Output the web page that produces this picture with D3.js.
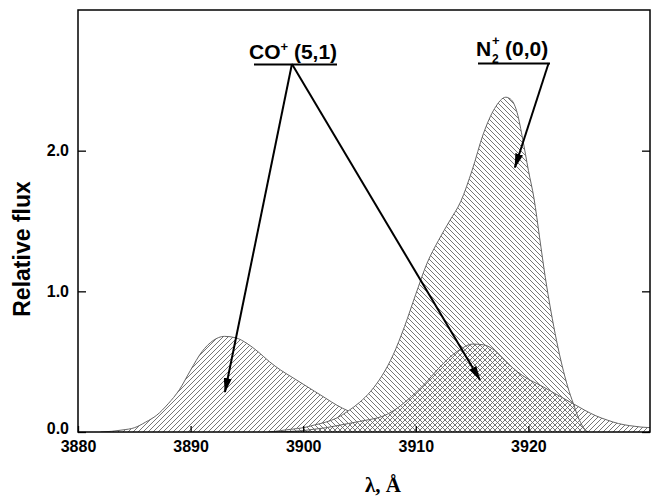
<!DOCTYPE html>
<html>
<head>
<meta charset="utf-8">
<script src="https://cdn.jsdelivr.net/npm/d3@7"></script>
<style>
  body { margin: 0; background: #fff; }
  svg { display: block; }
  .tick-label { font-family: "Liberation Sans", Arial, sans-serif; font-weight: bold; font-size: 16px; }
  .ann { font-family: "Liberation Sans", Arial, sans-serif; font-weight: bold; font-size: 21px; }
</style>
</head>
<body>
<svg id="chart" width="651" height="496"></svg>
<script>
'use strict';

// CO+ (5,1) band, left component
const coLeftWave = [3882, 3883, 3884, 3885, 3886, 3887, 3888, 3889, 3890, 3891, 3892, 3893, 3894, 3895,
  3896, 3897, 3898, 3899, 3900, 3901, 3902, 3903, 3904, 3905, 3906, 3907, 3908, 3909, 3910];
const coLeftFlux = [0, 0.005, 0.015, 0.03, 0.07, 0.12, 0.2, 0.3, 0.44, 0.57, 0.65, 0.68, 0.67, 0.63,
  0.57, 0.5, 0.44, 0.39, 0.34, 0.29, 0.24, 0.19, 0.15, 0.12, 0.09, 0.06, 0.03, 0.01, 0];

// N2+ (0,0) band
const n2Wave = [3897, 3898, 3899, 3900, 3901, 3902, 3903, 3904, 3905, 3906, 3907, 3908, 3909, 3910,
  3911, 3912, 3913, 3914, 3915, 3916, 3917, 3918, 3918.5, 3919, 3919.5, 3920, 3920.5, 3921, 3921.5,
  3922, 3922.5, 3923, 3923.5, 3924, 3924.5, 3925, 3925.3];
const n2Flux = [0, 0.01, 0.02, 0.03, 0.05, 0.07, 0.1, 0.15, 0.21, 0.29, 0.4, 0.55, 0.75, 0.98,
  1.2, 1.36, 1.5, 1.64, 1.86, 2.12, 2.3, 2.38, 2.36, 2.27, 2.08, 1.86, 1.66, 1.38, 1.1,
  0.86, 0.65, 0.47, 0.32, 0.2, 0.09, 0.02, 0];

// CO+ (5,1) band, right component
const coRightWave = [3897, 3899, 3900, 3901, 3902, 3903, 3904, 3905, 3906, 3907, 3908, 3909, 3910, 3911,
  3912, 3913, 3914, 3915, 3916, 3917, 3918, 3919, 3920, 3921, 3922, 3923, 3924, 3925, 3926, 3927,
  3928, 3929, 3930, 3931];
const coRightFlux = [0, 0.005, 0.01, 0.02, 0.03, 0.045, 0.06, 0.075, 0.09, 0.11, 0.15, 0.21, 0.28, 0.36,
  0.45, 0.53, 0.59, 0.625, 0.62, 0.58, 0.5, 0.43, 0.375, 0.335, 0.29, 0.245, 0.2, 0.155, 0.115, 0.085,
  0.06, 0.045, 0.035, 0.03];

const xTicks = [3880, 3890, 3900, 3910, 3920];
const yTicks = [0, 1, 2];

// arrows: [from wavelength, from flux, to wavelength, to flux]
const coArrows = [[3899.0, 2.616, 3893.05, 0.284], [3899.0, 2.616, 3915.7, 0.37]];
const n2Arrows = [[3921.8, 2.623, 3918.8, 1.88]];

const svg = d3.select('#chart');
const pL = 78, pR = 650, pT = 10, pB = 432;

const x = d3.scaleLinear().domain([3880, 3930.8]).range([pL, pR]);
const y = d3.scaleLinear().domain([0, 3]).range([pB, pT]);

const toPts = (w, f) => w.map((d, i) => [d, f[i]]);
const coLeft = toPts(coLeftWave, coLeftFlux);
const n2 = toPts(n2Wave, n2Flux);
const coRight = toPts(coRightWave, coRightFlux);

const area = d3.area().x(d => x(d[0])).y0(y(0)).y1(d => y(d[1])).curve(d3.curveMonotoneX);
const line = d3.line().x(d => x(d[0])).y(d => y(d[1])).curve(d3.curveMonotoneX);

const defs = svg.append('defs');

// hatch patterns
function hatch(id, d) {
  defs.append('pattern')
    .attr('id', id)
    .attr('patternUnits', 'userSpaceOnUse')
    .attr('width', 5).attr('height', 5)
    .append('path')
    .attr('d', d)
    .attr('stroke', '#666')
    .attr('stroke-width', 0.9)
    .attr('fill', 'none');
}
hatch('fwd', 'M-1,1 l2,-2 M0,5 l5,-5 M4,6 l2,-2');
hatch('back', 'M-1,4 l2,2 M0,0 l5,5 M4,-1 l2,2');

defs.append('clipPath').attr('id', 'plotClip')
  .append('rect').attr('x', pL).attr('y', pT).attr('width', pR - pL).attr('height', pB - pT);

// left CO+ component is hidden where the N2+ band lies
defs.append('clipPath').attr('id', 'outsideN2')
  .append('path')
  .attr('clip-rule', 'evenodd')
  .attr('d', `M${pL},${pT}H${pR}V${pB}H${pL}Z` + area(n2));

const plot = svg.append('g').attr('clip-path', 'url(#plotClip)');

const gLeft = plot.append('g').attr('clip-path', 'url(#outsideN2)');
gLeft.append('path').attr('d', area(coLeft)).attr('fill', 'url(#fwd)');
gLeft.append('path').attr('d', line(coLeft)).attr('fill', 'none').attr('stroke', '#666').attr('stroke-width', 1);

plot.append('path').attr('d', area(n2)).attr('fill', 'url(#back)');
plot.append('path').attr('d', area(coRight)).attr('fill', 'url(#fwd)');
plot.append('path').attr('d', line(n2)).attr('fill', 'none').attr('stroke', '#666').attr('stroke-width', 1);
plot.append('path').attr('d', line(coRight)).attr('fill', 'none').attr('stroke', '#666').attr('stroke-width', 1);

// frame with inward ticks
const axes = svg.append('g');
axes.append('g').attr('transform', `translate(0,${pB})`)
  .call(d3.axisBottom(x).tickValues(xTicks).tickSizeInner(-6).tickSizeOuter(0).tickFormat(d3.format('d')).tickPadding(9))
  .call(g => g.selectAll('text').attr('class', 'tick-label').attr('fill', '#000'));
axes.append('g').attr('transform', `translate(${pL},0)`)
  .call(d3.axisLeft(y).tickValues(yTicks).tickSizeInner(-8).tickSizeOuter(0).tickFormat(d3.format('.1f')).tickPadding(9))
  .call(g => g.selectAll('text').attr('class', 'tick-label').attr('fill', '#000'))
  .call(g => g.selectAll('.tick').filter(d => d === 0).select('text').attr('dy', '0.1em'));
axes.append('g').attr('transform', `translate(${pR},0)`)
  .call(d3.axisRight(y).tickValues(yTicks).tickSizeInner(-8).tickSizeOuter(0).tickFormat(''));
axes.selectAll('.domain').remove();
axes.selectAll('.tick line').attr('stroke', '#000').attr('stroke-width', 1.3);
axes.append('rect')
  .attr('x', pL).attr('y', pT).attr('width', pR - pL).attr('height', pB - pT)
  .attr('fill', 'none').attr('stroke', '#000').attr('stroke-width', 1.5);

// axis titles
svg.append('text')
  .attr('transform', `translate(30,${(pT + pB) / 2 + 28}) rotate(-90)`)
  .attr('text-anchor', 'middle')
  .style('font-family', '"Liberation Sans", Arial, sans-serif')
  .style('font-weight', 'bold')
  .style('font-size', '23px')
  .text('Relative flux');

svg.append('text')
  .attr('x', 383).attr('y', 492)
  .attr('text-anchor', 'middle')
  .style('font-family', '"Liberation Serif", "Times New Roman", serif')
  .style('font-weight', 'bold')
  .style('font-size', '21px')
  .text('λ, Å');

// annotations
defs.append('marker')
  .attr('id', 'head')
  .attr('markerUnits', 'userSpaceOnUse')
  .attr('markerWidth', 15).attr('markerHeight', 8)
  .attr('refX', 14).attr('refY', 4)
  .attr('orient', 'auto')
  .append('path').attr('d', 'M0,0 L15,4 L0,8 Z').attr('fill', '#000');

const ann = svg.append('g');

const coText = ann.append('text').attr('class', 'ann').attr('x', 249).attr('y', 59);
coText.append('tspan').text('CO');
coText.append('tspan').attr('dy', -8).style('font-size', '13px').text('+');
coText.append('tspan').attr('dy', 8).text(' (5,1)');
ann.append('line').attr('x1', 254).attr('x2', 337).attr('y1', 64.5).attr('y2', 64.5)
  .attr('stroke', '#000').attr('stroke-width', 2);

ann.append('text').attr('class', 'ann').attr('x', 476).attr('y', 56).text('N');
ann.append('text').attr('class', 'ann').attr('x', 492).attr('y', 63).style('font-size', '12px').text('2');
ann.append('text').attr('class', 'ann').attr('x', 492).attr('y', 45).style('font-size', '13px').text('+');
ann.append('text').attr('class', 'ann').attr('x', 505).attr('y', 56).text('(0,0)');
ann.append('line').attr('x1', 478).attr('x2', 550).attr('y1', 63.5).attr('y2', 63.5)
  .attr('stroke', '#000').attr('stroke-width', 2);

ann.selectAll('line.arrow')
  .data(coArrows.concat(n2Arrows))
  .enter().append('line')
  .attr('class', 'arrow')
  .attr('x1', d => x(d[0])).attr('y1', d => y(d[1]))
  .attr('x2', d => x(d[2])).attr('y2', d => y(d[3]))
  .attr('stroke', '#000').attr('stroke-width', 2)
  .attr('marker-end', 'url(#head)');
</script>
</body>
</html>
